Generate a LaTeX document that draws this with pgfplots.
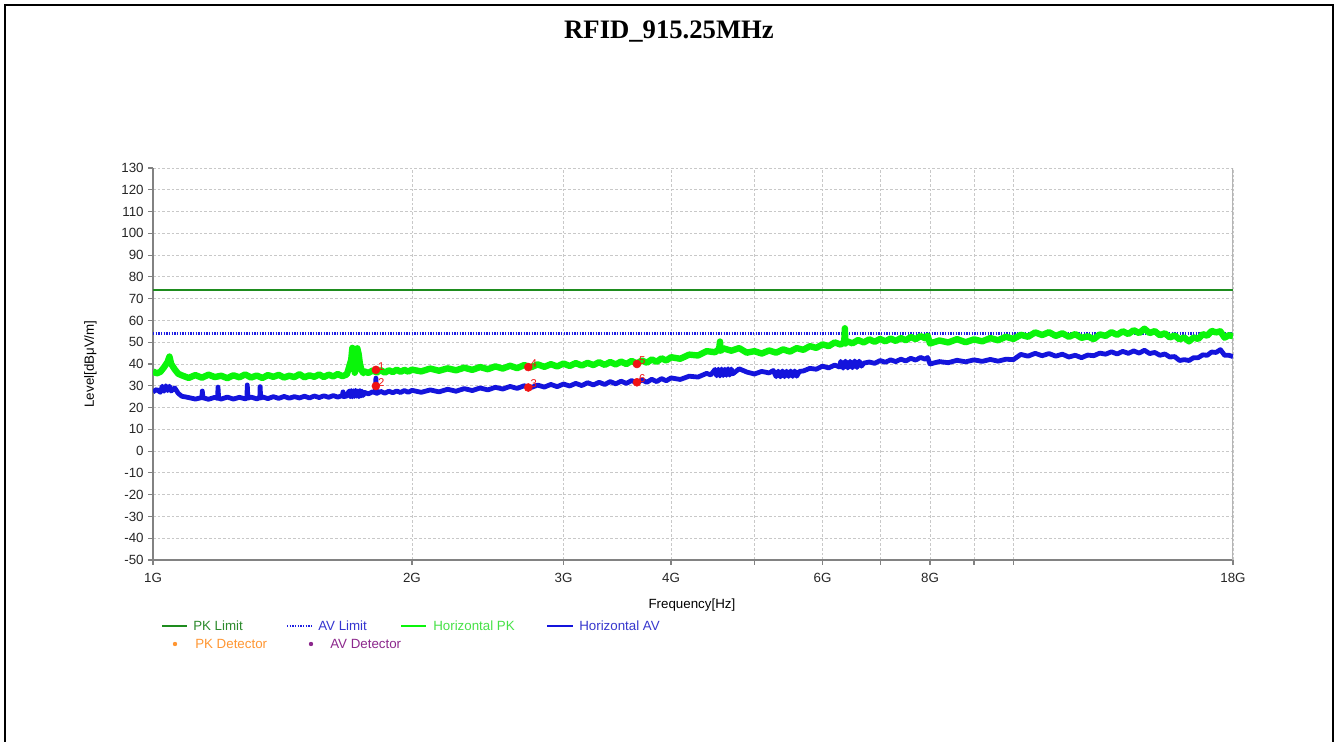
\documentclass[border=0pt]{standalone}
\usepackage{fontspec}
\setmainfont{Liberation Sans}
\newfontfamily\titlefont{Liberation Serif}
\usepackage{pgfplots}
\pgfplotsset{compat=1.18}
\definecolor{pkgreen}{RGB}{30,140,30}
\definecolor{trgreen}{RGB}{10,245,10}
\definecolor{trblue}{RGB}{20,20,220}
\definecolor{avblue}{RGB}{30,30,225}
\definecolor{mred}{RGB}{240,20,20}
\definecolor{gridc}{RGB}{200,200,200}
\definecolor{axc}{RGB}{130,130,130}
\definecolor{lgpk}{RGB}{43,138,43}
\definecolor{lgav}{RGB}{53,53,208}
\definecolor{lghpk}{RGB}{70,225,70}
\definecolor{lghav}{RGB}{55,55,205}
\definecolor{lgpkd}{RGB}{255,150,50}
\definecolor{lgavd}{RGB}{140,40,140}
\begin{document}
\begin{tikzpicture}
\begin{scope}[x=0.75pt,y=0.75pt]
\useasboundingbox (0,0) rectangle (1338,742);
\draw[line width=1.1pt] (5,0) -- (5,737) -- (1333,737) -- (1333,0);
\node[font=\titlefont\bfseries\fontsize{20pt}{22pt}\selectfont] at (669,710) {RFID\_915.25MHz};
\end{scope}
\begin{axis}[
  at={(114.75pt,136.5pt)}, anchor=south west,
  scale only axis, width=810pt, height=294pt,
  xmode=log, xmin=1, xmax=18, ymin=-50, ymax=130,
  xtick={1,2,3,4,5,6,7,8,9,10,18},
  xticklabels={1G,2G,3G,4G,,6G,,8G,,,18G},
  xminorticks=false,
  ytick={-50,-40,...,130},
  /pgf/number format/assume math mode=true,
  ticklabel style={font=\fontsize{10pt}{12pt}\selectfont, text=black!85},
  grid=major,
  major grid style={gridc, dash pattern=on 2pt off 1.5pt, line width=0.6pt},
  axis x line*=bottom, axis y line*=left,
  axis line style={axc, line width=1.2pt, -},
  tick style={axc, line width=0.8pt},
  tick align=outside, major tick length=3.5pt,
  xticklabel style={yshift=-3pt},
  xlabel={Frequency[Hz]},
  ylabel={Level[dBμV/m]},
  label style={font=\fontsize{10pt}{12pt}\selectfont},
  xlabel style={at={(axis description cs:0.499,-0.115)}, anchor=center},
  ylabel style={at={(axis description cs:-0.058,0.5)}, anchor=center},
  clip=true,
]
\addplot[axc!60, line width=0.8pt, forget plot] coordinates {(18,-50) (18,130)};
\addplot[pkgreen, line width=1.6pt] coordinates {(1,74) (18,74)};
\addplot[avblue, line width=1.6pt, dash pattern=on 1pt off 1pt] coordinates {(1,54) (18,54)};
% Horizontal PK
\addplot[trgreen, line width=4.8pt, line join=round] coordinates {
(1.00,36.6) (1.01,35.7) (1.02,36.4) (1.03,38.5) (1.04,41.0) (1.045,43.4) (1.05,40.0) (1.06,37.5) (1.07,35.5)
(1.08,34.8) (1.10,33.6) (1.12,34.9) (1.14,33.7) (1.16,35.1) (1.18,34.0) (1.20,34.6) (1.22,33.5) (1.24,34.8)
(1.26,33.9) (1.28,35.2) (1.30,33.8) (1.32,34.7) (1.34,33.6) (1.36,34.9) (1.38,34.1) (1.40,35.0) (1.42,33.8)
(1.44,34.6) (1.46,34.0) (1.48,35.3) (1.50,33.9) (1.52,34.8) (1.54,34.1) (1.56,35.2) (1.58,34.0) (1.60,35.1)
(1.62,34.3) (1.64,35.4) (1.66,34.4) (1.68,35.2) (1.690,38.5) (1.700,42.0) (1.705,47.4) (1.712,44.0) (1.716,36.0)
(1.722,39.0) (1.728,47.2) (1.734,44.5) (1.740,40.0) (1.748,37.0) (1.756,35.8)
(1.76,36.6) (1.78,35.9) (1.80,37.0) (1.82,36.1) (1.84,37.2) (1.86,36.0) (1.88,37.1) (1.90,36.3) (1.92,37.4)
(1.94,36.4) (1.96,37.3) (1.98,36.5) (2.00,37.4)
(2.05,36.6) (2.10,37.9) (2.15,36.9) (2.20,38.0) (2.25,37.1) (2.30,38.3) (2.35,37.3) (2.40,38.6) (2.45,37.6)
(2.50,38.9) (2.55,37.9) (2.60,39.2) (2.65,38.1) (2.70,39.5) (2.75,38.5) (2.80,39.8) (2.85,38.7) (2.90,39.9)
(2.95,38.9) (3.00,40.2) (3.05,39.1) (3.10,40.4) (3.15,39.3) (3.20,40.5) (3.25,39.5) (3.30,40.8) (3.35,39.6)
(3.40,40.9) (3.45,39.8) (3.50,41.1) (3.55,40.0) (3.60,41.4) (3.65,40.2) (3.70,41.6) (3.75,40.6) (3.80,42.1)
(3.85,41.0) (3.90,42.6) (3.95,41.6) (4.00,43.1)
(4.10,42.4) (4.20,44.3) (4.30,43.9) (4.40,45.9) (4.50,45.4) (4.55,46.9) (4.56,50.3) (4.57,46.0) (4.60,47.2)
(4.70,46.1) (4.80,47.3) (4.90,45.2) (5.00,45.9) (5.10,44.8) (5.20,46.2) (5.30,45.2) (5.40,46.7) (5.50,45.7)
(5.60,47.3) (5.70,46.5) (5.80,48.2) (5.90,47.4) (6.00,49.0) (6.10,48.2) (6.20,49.9) (6.30,48.9) (6.36,50.2)
(6.37,56.4) (6.38,49.4) (6.40,50.5) (6.50,49.5) (6.60,51.0) (6.70,49.9) (6.80,51.3) (6.90,50.2) (7.00,51.5)
(7.10,50.4) (7.20,51.7) (7.30,50.6) (7.40,51.9) (7.50,50.9) (7.60,52.4) (7.70,51.4) (7.80,52.8) (7.90,51.8)
(7.95,53.0) (8.00,49.4)
(8.2,50.8) (8.4,49.9) (8.6,51.4) (8.8,50.0) (9.0,51.3) (9.2,50.4) (9.4,51.9) (9.6,50.9) (9.8,52.5) (10.0,51.5)
(10.2,53.4) (10.4,52.5) (10.6,54.5) (10.8,53.3) (11.0,54.6) (11.2,52.9) (11.4,54.1) (11.6,52.5) (11.8,53.7)
(12.0,52.0) (12.2,52.7) (12.4,51.4) (12.6,53.6) (12.8,52.9) (13.0,54.6) (13.2,53.4) (13.4,55.0) (13.6,53.8)
(13.8,55.5) (14.0,54.2) (14.2,56.2) (14.4,54.2) (14.6,55.1) (14.8,53.2) (15.0,54.1) (15.2,52.2) (15.4,53.1)
(15.6,51.3) (15.8,52.2) (16.0,50.4) (16.2,52.2) (16.4,51.5) (16.6,53.7) (16.8,53.0) (17.0,55.2) (17.2,54.5)
(17.4,55.0) (17.6,52.1) (17.8,53.2) (18.0,52.8)
};
% Horizontal AV
\addplot[trblue, line width=3.6pt, line join=round] coordinates {
(1.00,27.2) (1.01,28.3) (1.02,27.0) (1.025,29.8) (1.03,27.5) (1.035,30.0) (1.04,27.8) (1.045,29.8) (1.05,27.6)
(1.06,29.0) (1.07,26.5) (1.08,25.2) (1.10,24.6) (1.12,23.9) (1.14,24.6) (1.141,27.6) (1.143,24.5) (1.16,23.8)
(1.18,24.7) (1.189,24.2) (1.190,29.4) (1.192,24.3) (1.20,23.9) (1.22,24.8) (1.24,23.9) (1.26,24.7) (1.28,24.0)
(1.286,24.4) (1.287,30.4) (1.289,24.3) (1.30,24.8) (1.32,24.0) (1.331,24.5) (1.332,29.6) (1.334,24.3) (1.34,24.9)
(1.36,24.1) (1.38,25.0) (1.40,24.2) (1.42,25.1) (1.44,24.3) (1.46,25.0) (1.48,24.4) (1.50,25.2) (1.52,24.4)
(1.54,25.3) (1.56,24.6) (1.58,25.4) (1.60,24.7) (1.62,25.5) (1.64,24.8) (1.66,25.5) (1.663,27.2) (1.666,25.0)
(1.68,25.3) (1.69,27.6) (1.695,25.0) (1.70,27.8) (1.705,24.9) (1.71,27.7) (1.715,25.1) (1.72,27.9) (1.725,25.2)
(1.73,27.6) (1.735,25.0) (1.74,27.8) (1.745,25.3) (1.75,27.5) (1.755,25.5) (1.76,27.0) (1.78,26.3) (1.80,27.2)
(1.814,26.8) (1.816,33.5) (1.818,26.9) (1.82,26.5) (1.84,27.4) (1.86,26.6) (1.88,27.5) (1.90,26.8) (1.92,27.6)
(1.94,26.9) (1.96,27.8) (1.98,27.0) (2.00,27.9)
(2.05,27.0) (2.10,28.1) (2.15,27.2) (2.20,28.4) (2.25,27.5) (2.30,28.7) (2.35,27.8) (2.40,29.0) (2.45,28.1)
(2.50,29.3) (2.55,28.5) (2.60,29.7) (2.65,28.8) (2.70,30.0) (2.75,29.2) (2.80,30.3) (2.85,29.4) (2.90,30.6)
(2.95,29.6) (3.00,30.8) (3.05,29.9) (3.10,31.1) (3.15,30.1) (3.20,31.4) (3.25,30.4) (3.30,31.6) (3.35,30.6)
(3.40,31.9) (3.45,30.9) (3.50,32.1) (3.55,31.1) (3.60,32.4) (3.65,31.3) (3.70,32.7) (3.75,31.6) (3.80,33.0)
(3.85,31.9) (3.90,33.3) (3.95,32.3) (4.00,33.6)
(4.10,32.9) (4.20,34.4) (4.30,34.0) (4.40,35.7) (4.45,35.0) (4.50,37.5) (4.52,34.6) (4.54,37.6) (4.56,34.5)
(4.58,37.7) (4.60,34.7) (4.62,37.6) (4.64,34.8) (4.66,37.8) (4.68,34.9) (4.70,37.7) (4.72,35.5) (4.80,37.8)
(4.90,36.3) (5.00,35.4) (5.10,36.6) (5.20,35.9) (5.26,37.0) (5.30,34.2) (5.33,36.7) (5.36,34.1) (5.39,36.8)
(5.42,34.2) (5.45,36.7) (5.48,34.3) (5.51,36.8) (5.54,34.3) (5.57,36.8) (5.60,34.4) (5.64,36.6) (5.70,36.8)
(5.80,38.0) (5.90,37.6) (6.00,39.0) (6.10,38.2) (6.20,39.5) (6.28,38.6) (6.30,41.2) (6.34,38.1) (6.38,41.3)
(6.42,38.2) (6.46,41.2) (6.50,38.3) (6.54,41.4) (6.58,38.4) (6.62,41.3) (6.66,39.0) (6.70,40.4) (6.80,40.9)
(6.90,40.3) (7.00,41.6) (7.10,40.8) (7.20,41.9) (7.30,41.1) (7.40,42.2) (7.50,41.4) (7.60,42.6) (7.70,41.8)
(7.80,43.0) (7.90,42.2) (7.95,43.0) (8.00,40.0)
(8.2,41.1) (8.4,40.6) (8.6,41.7) (8.8,41.0) (9.0,41.9) (9.2,41.2) (9.4,42.1) (9.6,41.3) (9.8,42.2) (10.0,42.0)
(10.2,44.4) (10.4,43.6) (10.6,44.9) (10.8,43.8) (11.0,44.8) (11.2,43.6) (11.4,44.5) (11.6,43.2) (11.8,44.0)
(12.0,42.9) (12.2,44.1) (12.4,43.8) (12.6,45.0) (12.8,44.5) (13.0,45.6) (13.2,44.6) (13.4,45.8) (13.6,44.9)
(13.8,46.0) (14.0,45.0) (14.2,46.3) (14.4,44.8) (14.6,45.3) (14.8,44.0) (15.0,44.6) (15.2,43.2) (15.4,43.4)
(15.6,41.6) (15.8,42.0) (16.0,41.6) (16.2,42.9) (16.4,42.9) (16.6,44.2) (16.8,44.0) (17.0,45.5) (17.2,45.3)
(17.4,46.6) (17.6,44.0) (17.8,44.0) (18.0,43.4)
};
% markers
\addplot[only marks, mark=*, mark size=3pt, mred, mark options={draw=mred, fill=mred},
  point meta=explicit symbolic, nodes near coords,
  nodes near coords style={anchor=south west, inner sep=0pt, xshift=1.5pt, yshift=-0.5pt, text=mred, font=\fontsize{8.5pt}{9pt}\selectfont}]
coordinates {(1.816,37.3) [1] (1.816,29.9) [2] (2.73,29.2) [3] (2.73,38.6) [4] (3.652,40.0) [5] (3.652,31.6) [6]};
\end{axis}
\begin{scope}[x=0.75pt,y=0.75pt, every node/.style={font=\fontsize{10pt}{12pt}\selectfont, anchor=west, inner sep=0pt}]
\draw[pkgreen, line width=1.6pt] (162,116) -- (187,116);
\node[text=lgpk] at (193,116) {PK Limit};
\draw[avblue, line width=1.3pt, dash pattern=on 1pt off 1pt] (287,116) -- (312,116);
\node[text=lgav] at (318,116) {AV Limit};
\draw[trgreen, line width=1.6pt] (401,116) -- (426,116);
\node[text=lghpk] at (433,116) {Horizontal PK};
\draw[trblue, line width=1.6pt] (547,116) -- (573,116);
\node[text=lghav] at (579,116) {Horizontal AV};
\fill[lgpkd] (175,98) circle (2.2);
\node[text=lgpkd] at (195,98) {PK Detector};
\fill[lgavd] (311,98) circle (2.2);
\node[text=lgavd] at (330,98) {AV Detector};
\end{scope}
\end{tikzpicture}
\end{document}
